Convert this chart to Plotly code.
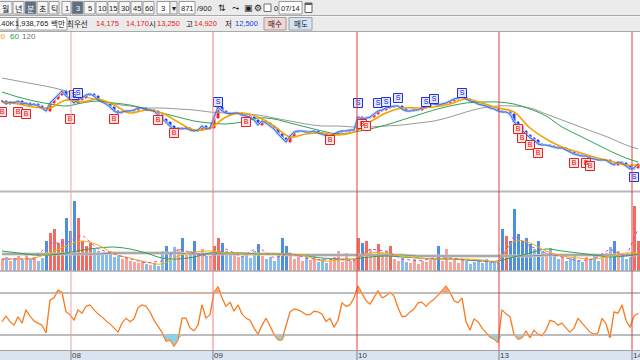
import plotly.graph_objects as go

W, H = 640, 360

# ---------------- data (3-minute bars, sampled) ----------------
close = [14668,14584,14640,14612,14668,14584,14612,14556,14584,14528,
         14472,14388,14612,14724,14836,14948,14808,14696,14612,14696,
         14752,14836,14864,14808,14696,14640,14584,14500,14388,14332,
         14360,14388,14388,14416,14472,14472,14416,14416,14388,14276,
         14164,14080,13968,13856,13912,13884,13912,13856,13828,13856,
         13968,13884,13912,14192,14500,14388,14332,14304,14332,14332,
         14276,14248,14220,14136,13996,14108,14052,13968,13884,13744,
         13632,13520,13688,13800,13828,13828,13800,13800,13828,13772,
         13744,13688,13688,13744,13800,13828,13828,13856,13856,14220,
         14164,14192,14220,14304,14388,14416,14472,14500,14528,14528,
         14444,14388,14388,14416,14416,14472,14500,14584,14584,14556,
         14584,14612,14668,14724,14752,14780,14724,14668,14640,14584,
         14556,14528,14472,14444,14388,14360,14360,14304,14080,13968,
         13828,13716,13632,13576,13464,13436,13436,13408,13380,13352,
         13352,13296,13240,13184,13156,13128,13128,13072,13044,13016,
         13016,13016,12932,12876,12960,12932,12848,12764,12792,12904]

ma_idx = list(range(0, 160, 4)) + [159]
ma20 = [14640,14584,14500,14472,14696,14640,14724,14556,14332,14416,
        14332,14080,13856,13912,14220,14332,14220,13968,13660,13744,
        13772,13716,13800,14080,14332,14472,14472,14500,14584,14724,
        14612,14472,14360,13912,13604,13380,13240,13100,12988,12876,12876]
ma60 = [14920,14780,14668,14584,14528,14612,14668,14612,14556,14444,
        14332,14220,14108,14052,14024,14080,14192,14164,14052,13940,
        13828,13744,13800,13884,13996,14136,14276,14416,14528,14612,
        14640,14640,14584,14444,14248,13940,13716,13492,13268,13072,12960]
ma120 = [15312,15228,15144,15060,14948,14808,14696,14584,14528,14472,
         14472,14444,14416,14360,14332,14304,14276,14192,14108,14024,
         13968,13968,13940,13940,13968,13996,14052,14108,14220,14360,
         14472,14528,14528,14472,14304,14136,13968,13800,13632,13436,13324]

buy_idx = [0,4,6,17,28,39,43,61,82,90,91,129,130,132,134,143,146,147]
buy_px = [14360,14360,14304,14164,14164,14136,13772,14080,13576,14024,
          13968,13884,13632,13436,13212,12932,12932,12848]
sell_idx = [18,19,54,89,94,96,99,106,108,115,158]
sell_px = [14836,14892,14640,14612,14612,14640,14752,14640,14724,14892,12540]

# volume in thousand shares
volume = [12,14,10,13,15,11,16,12,14,10,
          13,30,38,42,28,32,53,40,70,53,
          30,25,28,22,20,18,16,20,14,15,
          12,14,10,9,8,10,7,6,8,5,
          20,25,18,24,22,33,17,20,30,18,
          22,15,14,25,33,28,20,16,18,14,
          15,17,13,20,27,15,12,14,10,17,
          33,25,15,12,16,10,14,11,16,9,
          12,8,10,14,20,9,18,10,12,33,
          28,30,22,16,27,18,20,25,12,10,
          13,9,8,12,7,10,9,11,12,25,
          10,22,9,11,8,12,10,7,9,11,
          8,12,9,10,8,42,35,30,62,37,
          30,33,27,22,30,20,18,23,15,12,
          14,10,13,17,11,9,14,12,16,10,
          13,18,24,30,20,15,12,14,65,30]
vol_ma5 = [12,12,12,28,28,36,22,17,12,8,10,22,18,14,22,14,24,13,18,13,
           11,12,10,22,20,12,10,13,13,11,10,8,35,25,18,14,10,12,22,14,42]
vol_ma20 = [12,12,13,18,25,30,26,17,13,9,7,15,19,20,18,17,17,17,17,15,
            10,11,12,18,18,15,13,12,12,12,11,10,30,28,20,15,13,12,15,18,18]
vol_ma60 = [20,18,16,16,18,21,23,24,22,18,13,12,14,18,18,18,17,17,17,15,
            13,12,12,14,15,14,13,12,12,11,10,10,14,18,22,20,18,16,14,15,17]
vol_ma120 = [17,17,17,17,17,17,17,18,18,18,18,18,17,17,17,17,17,17,16,16,
             16,16,16,16,16,16,15,15,15,15,15,15,15,15,16,16,16,16,16,16,16]

osc = [39,47,39,34,46,37,56,47,40,37,
       34,23,70,73,84,81,53,49,41,56,
       51,61,63,56,50,46,40,36,30,24,
       37,44,39,43,59,63,61,53,41,33,
       24,11,13,4,13,44,44,30,26,34,
       63,44,49,81,89,73,61,67,54,63,
       50,44,41,30,21,34,44,33,21,13,
       13,33,53,57,56,53,49,49,54,53,
       50,39,44,31,41,66,61,63,73,90,
       79,69,64,73,83,73,76,81,76,59,
       46,47,53,57,66,67,61,67,71,77,
       84,90,81,69,66,73,39,27,43,39,
       30,23,17,14,9,56,50,46,21,14,
       16,26,16,27,21,19,27,41,39,34,
       37,30,24,30,44,37,31,24,21,23,
       44,36,16,53,51,63,41,31,47,51]
osc_upper, osc_lower = 80, 20

day_pos = [17.25, 52.75, 88.75, 124.25, 157.5]
day_labels = ['08', '09', '10', '13', '14']

# ---------------- figure ----------------
n = len(close)
xs = list(range(n))
opens = [close[0]] + close[:-1]
highs = [max(o, c) for o, c in zip(opens, close)]
lows = [min(o, c) for o, c in zip(opens, close)]

KR = "Noto Sans CJK KR, DejaVu Sans, sans-serif"
NUM = "Liberation Sans, Arial, sans-serif"

fig = go.Figure()

# main price panel
fig.add_trace(go.Scatter(x=xs, y=close, mode='lines', line=dict(color='#a9cbf2', width=2.5),
                         xaxis='x', yaxis='y', hoverinfo='skip'))
fig.add_trace(go.Scatter(x=ma_idx, y=ma120, mode='lines', line=dict(color='#9a9a9a', width=1, shape='spline'),
                         xaxis='x', yaxis='y'))
fig.add_trace(go.Scatter(x=ma_idx, y=ma60, mode='lines', line=dict(color='#2ea44f', width=1, shape='spline'),
                         xaxis='x', yaxis='y'))
fig.add_trace(go.Scatter(x=ma_idx, y=ma20, mode='lines', line=dict(color='#f5a300', width=1.6, shape='spline'),
                         xaxis='x', yaxis='y'))
fig.add_trace(go.Scatter(x=xs, y=close, mode='lines', line=dict(color='#3050e8', width=0.8),
                         xaxis='x', yaxis='y'))
fig.add_trace(go.Candlestick(x=xs, open=opens, high=highs, low=lows, close=close,
                             increasing=dict(line=dict(color='#ff2020', width=1), fillcolor='#ff2020'),
                             decreasing=dict(line=dict(color='#2040ff', width=1), fillcolor='#2040ff'),
                             xaxis='x', yaxis='y'))
fig.add_trace(go.Scatter(x=buy_idx, y=buy_px, mode='markers+text', text=['B'] * len(buy_idx),
                         textposition='middle center',
                         textfont=dict(size=7, color='#e01010', family=NUM),
                         marker=dict(symbol='square', size=9, color='#ffe2e2',
                                     line=dict(color='#e82020', width=1)),
                         xaxis='x', yaxis='y'))
fig.add_trace(go.Scatter(x=sell_idx, y=sell_px, mode='markers+text', text=['S'] * len(sell_idx),
                         textposition='middle center',
                         textfont=dict(size=7, color='#1020d0', family=NUM),
                         marker=dict(symbol='square', size=9, color='#e4e8ff',
                                     line=dict(color='#2030e0', width=1)),
                         xaxis='x', yaxis='y'))

# volume panel
vcolors = []
for i in range(n):
    up = close[i] >= opens[i]
    if volume[i] >= 25:
        vcolors.append('#f26b62' if up else '#4f8fe0')
    else:
        vcolors.append('#f7a39c' if up else '#88bcee')
fig.add_trace(go.Bar(x=xs, y=volume, marker=dict(color=vcolors, line=dict(width=0)), width=0.75,
                     xaxis='x', yaxis='y2'))
fig.add_trace(go.Scatter(x=ma_idx, y=vol_ma120, mode='lines', line=dict(color='#c8c8c8', width=3),
                         xaxis='x', yaxis='y2'))
fig.add_trace(go.Scatter(x=ma_idx, y=vol_ma120, mode='lines', line=dict(color='#8c8c8c', width=1),
                         xaxis='x', yaxis='y2'))
fig.add_trace(go.Scatter(x=ma_idx, y=vol_ma60, mode='lines', line=dict(color='#2ea44f', width=1, shape='spline'),
                         xaxis='x', yaxis='y2'))
fig.add_trace(go.Scatter(x=ma_idx, y=vol_ma20, mode='lines', line=dict(color='#f5b000', width=1, shape='spline'),
                         xaxis='x', yaxis='y2'))
fig.add_trace(go.Scatter(x=ma_idx, y=vol_ma5, mode='lines', line=dict(color='#e040d0', width=1, dash='dot'),
                         xaxis='x', yaxis='y2'))

# oscillator panel with over/under fills
fig.add_trace(go.Scatter(x=xs, y=[osc_upper] * n, mode='lines', line=dict(width=0),
                         xaxis='x', yaxis='y3', hoverinfo='skip'))
fig.add_trace(go.Scatter(x=xs, y=[max(v, osc_upper) for v in osc], mode='lines', line=dict(width=0),
                         fill='tonexty', fillcolor='#f4a27a', xaxis='x', yaxis='y3', hoverinfo='skip'))
fig.add_trace(go.Scatter(x=xs, y=[osc_lower] * n, mode='lines', line=dict(width=0),
                         xaxis='x', yaxis='y3', hoverinfo='skip'))
fig.add_trace(go.Scatter(x=xs, y=[min(v, osc_lower) for v in osc], mode='lines', line=dict(width=0),
                         fill='tonexty', fillcolor='#86d3ec', xaxis='x', yaxis='y3', hoverinfo='skip'))
fig.add_trace(go.Scatter(x=xs, y=osc, mode='lines', line=dict(color='#ffc49a', width=1.6),
                         xaxis='x', yaxis='y3'))
fig.add_trace(go.Scatter(x=xs, y=osc, mode='lines', line=dict(color='#f57418', width=1),
                         xaxis='x', yaxis='y3'))

# ---------------- chrome ----------------
shapes, anns = [], []

def pyv(y):
    return 1 - y / H

def rect(x0, y0, x1, y1, fill, line=None, layer='above'):
    shapes.append(dict(type='rect', xref='paper', yref='paper', x0=x0 / W, x1=x1 / W,
                       y0=pyv(y1), y1=pyv(y0), fillcolor=fill, layer=layer,
                       line=dict(color=line if line else fill, width=1 if line else 0)))

def hline(y, color, width=1, x0=0, x1=W):
    shapes.append(dict(type='line', xref='paper', yref='paper', x0=x0 / W, x1=x1 / W,
                       y0=pyv(y), y1=pyv(y), line=dict(color=color, width=width), layer='above'))

def txt(x, y, s, color='#202020', size=9, anchor='center', family=NUM):
    anns.append(dict(xref='paper', yref='paper', x=x / W, y=pyv(y), text=s, showarrow=False,
                     font=dict(size=size, color=color, family=family), xanchor=anchor,
                     yanchor='middle', borderpad=0))

# toolbar rows
rect(0, 0, 640, 15.5, '#ebebeb')
hline(15.5, '#a9a9a9')
rect(0, 16.5, 640, 31, '#ebebeb')
hline(31.5, '#a9a9a9')

row1 = [('월', -2, 12, False, KR), ('년', 13, 24, False, KR), ('분', 25, 36, True, KR),
        ('초', 37, 48, False, KR), ('틱', 49, 59, False, KR),
        ('1', 62, 71, False, NUM), ('3', 72, 83, True, NUM), ('5', 84, 95, False, NUM),
        ('10', 96, 107, False, NUM), ('15', 108, 118, False, NUM), ('30', 119, 130, False, NUM),
        ('45', 131, 142, False, NUM), ('60', 143, 154, False, NUM)]
for s, a, b, sel, fam in row1:
    rect(a, 1.5, b, 14, '#5d6f82' if sel else '#f6f6f6', '#9a9a9a')
    txt((a + b) / 2, 8, s, '#ffffff' if sel else '#202020', 8 if fam == KR else 7.5, family=fam)

rect(157, 1.5, 170, 14, '#ffffff', '#9a9a9a')
txt(160, 8, '3', size=7.5, anchor='left')
rect(170, 1.5, 177, 14, '#f0f0f0', '#9a9a9a')
txt(173.5, 8, '▾', size=8)
rect(179, 1.5, 195, 14, '#ffffff', '#9a9a9a')
txt(187, 8, '871', size=7.5)
txt(196, 8, '/900', size=7.5, anchor='left')
txt(222, 8, '⇅', size=9, family='DejaVu Sans')
txt(235, 8, '⤳', size=9, family='DejaVu Sans')
txt(248, 8, '▣', size=9, family='DejaVu Sans')
txt(258, 8, '⚙', size=9, family='DejaVu Sans')
rect(264, 4, 271, 11.5, '#ffffff', '#707070')
txt(273, 8, '0', size=7.5, anchor='left')
rect(279, 1.5, 302, 14, '#ffffff', '#9a9a9a')
txt(290.5, 8, '07/14', size=7.5)
rect(305, 3, 312, 12.5, '#ffffff', '#606060')
rect(305, 3, 312, 5, '#606060')

# row 2
rect(-1, 17.5, 17, 30, '#ffffff', '#9a9a9a')
txt(16, 23.5, '9.40K', size=7.5, anchor='right')
rect(18, 17.5, 67, 30, '#ffffff', '#9a9a9a')
txt(49, 23.5, '1,938,765', size=7.5, anchor='right')
txt(49.5, 23.5, '백만', size=7.5, anchor='left', family=KR)
txt(77, 23.5, '최우선', size=7.5, family=KR)
txt(107, 23.5, '14,175', '#e82020', 7.5)
txt(137, 23.5, '14,170', '#e82020', 7.5)
txt(152.5, 23.5, '시', size=7.5, family=KR)
txt(168, 23.5, '13,250', '#e82020', 7.5)
txt(189, 23.5, '고', size=7.5, family=KR)
txt(205, 23.5, '14,920', '#e82020', 7.5)
txt(228, 23.5, '저', size=7.5, family=KR)
txt(246, 23.5, '12,500', '#2040e0', 7.5)
rect(264, 17.5, 286, 30, '#f8d3d3', '#a0a0a0')
txt(275, 23.5, '매수', size=7.5, family=KR)
rect(289, 17.5, 312, 30, '#d3e3f8', '#a0a0a0')
txt(300.5, 23.5, '매도', size=7.5, family=KR)

# MA legend
txt(-5, 36.5, '20', '#eaa000', 8, anchor='left')
txt(9, 36.5, '60', '#1fa040', 8, anchor='left')
txt(21, 36.5, '120', '#707070', 8, anchor='left')

# panel separators and bottom band
hline(191.5, '#b8b8b8', 2)
hline(271, '#a8a8a8', 1.5)
rect(0, 351, 640, 360, '#dae4f0')
hline(350.5, '#a0a0a0', 1)

# oscillator level lines
for lvl in (osc_upper, osc_lower):
    shapes.append(dict(type='line', xref='paper', yref='y3', x0=0, x1=1, y0=lvl, y1=lvl,
                       line=dict(color='#7a7a7a', width=1), layer='below'))

# day separators, ticks and labels
line_cols = ['#f0a3a3', '#ec8080', '#e23c3c', '#e23c3c', '#e23c3c']
for p, lab, c in zip(day_pos, day_labels, line_cols):
    shapes.append(dict(type='line', xref='x', yref='paper', x0=p, x1=p, y0=pyv(350), y1=pyv(32),
                       line=dict(color=c, width=1), layer='above'))
    shapes.append(dict(type='line', xref='x', yref='paper', x0=p, x1=p, y0=0, y1=pyv(351),
                       line=dict(color='#808080', width=1), layer='above'))
    anns.append(dict(xref='x', yref='paper', x=p, y=pyv(355.5), text=lab, showarrow=False,
                     xanchor='left', yanchor='middle', xshift=0, borderpad=0,
                     font=dict(size=8, color='#404040', family=NUM)))

axis_off = dict(showgrid=False, zeroline=False, showticklabels=False, showline=False, ticks='')
fig.update_layout(
    width=W, height=H, margin=dict(l=0, r=0, t=0, b=0),
    paper_bgcolor='#ffffff', plot_bgcolor='#ffffff',
    showlegend=False, bargap=0,
    xaxis=dict(range=[-0.5, n - 0.5], rangeslider=dict(visible=False), **axis_off),
    yaxis=dict(domain=[pyv(190), pyv(32)], range=[12176, 16600], **axis_off),
    yaxis2=dict(domain=[pyv(271), pyv(192)], range=[0, 79], anchor='x', **axis_off),
    yaxis3=dict(domain=[pyv(350), pyv(271)], range=[-1.43, 111.43], anchor='x', **axis_off),
    shapes=shapes, annotations=anns,
)

fig.write_html("out.html")
